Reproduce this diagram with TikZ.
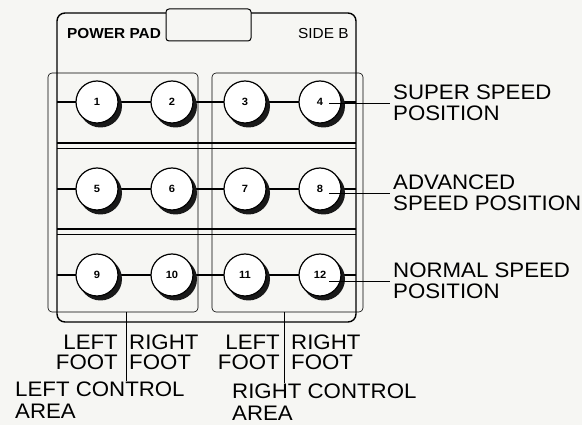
\documentclass[tikz,border=0pt]{standalone}
\usepackage{fontspec}
\setmainfont{Liberation Sans}
\newfontfamily\lab[FakeStretch=1.06]{Liberation Sans}
\definecolor{bg}{RGB}{246,246,243}
\begin{document}
\begin{tikzpicture}[x=1pt,y=-1pt,
  btn/.style={circle,draw,line width=1.2pt,fill=white,minimum size=42pt,inner sep=0pt,
    font=\lab\bfseries\fontsize{10.5}{10.5}\selectfont},
  btnshadow/.style={fill=black!90},
  rowline/.style={line width=1.8pt},
  divider/.style={line width=1.6pt},
  thinline/.style={line width=0.6pt},
  leader/.style={line width=0.6pt},
  lbl/.style={font=\lab\fontsize{21}{21}\selectfont,inner sep=0pt},
  foot/.style={font=\lab\fontsize{21}{20}\selectfont,inner sep=0pt},
  area/.style={font=\lab\fontsize{21}{22}\selectfont,inner sep=0pt,align=left},
  padtext/.style={font=\lab\fontsize{14.5}{14.5}\selectfont,inner sep=0pt}]
\fill[bg] (0,0) rectangle (582,425);
\useasboundingbox (0,0) rectangle (582,425);
% control area boxes
\draw[thinline,rounded corners=4pt] (48,73) rectangle (198,312);
\draw[thinline,rounded corners=4pt] (212,73) rectangle (363,312);
% pad
\draw[line width=1.4pt,rounded corners=8pt] (57,13) rectangle (356,322);
\draw[line width=1pt,rounded corners=3pt,fill=bg] (166,9) rectangle (251,41);
\node[padtext,anchor=north west,font=\lab\bfseries\fontsize{14.5}{14.5}\selectfont] (pp) at (67,28) {POWER PAD};
\node[padtext,anchor=north west] (sb) at (298,28) {SIDE B};
% row dividers
\draw[divider] (57,143) -- (356,143);
\draw[thinline] (57,148) -- (356,148);
\draw[divider] (57,229) -- (356,229);
\draw[thinline] (57,234) -- (356,234);
% row lines
\foreach \y in {102,189,275}{
  \draw[rowline] (57,\y) -- (356,\y);
}
% button shadows
\foreach \x in {97,172,245,320}{
  \foreach \y in {102,189,275}{
    \fill[btnshadow] (\x+3.5,\y+4) circle (21.5);
  }
}
% buttons
\node[btn] (b1) at (97,102) {1};
\node[btn] (b2) at (172,102) {2};
\node[btn] (b3) at (245,102) {3};
\node[btn] (b4) at (320,102) {4};
\node[btn] (b5) at (97,189) {5};
\node[btn] (b6) at (172,189) {6};
\node[btn] (b7) at (245,189) {7};
\node[btn] (b8) at (320,189) {8};
\node[btn] (b9) at (97,275) {9};
\node[btn] (b10) at (172,275) {10};
\node[btn] (b11) at (245,275) {11};
\node[btn] (b12) at (320,275) {12};
% right labels
\node[lbl,anchor=north west,align=left] (l1) at (393,85) {SUPER SPEED\\POSITION};
\node[lbl,anchor=north west,align=left] (l2) at (393,175) {ADVANCED\\SPEED POSITION};
\node[lbl,anchor=north west,align=left] (l3) at (393,263) {NORMAL SPEED\\POSITION};
\draw[leader] ([xshift=9pt]b4.center |- l1.west) -- ([xshift=-3pt]l1.west);
\draw[leader] ([xshift=9pt]b8.center |- l2.west) -- ([xshift=-3pt]l2.west);
\draw[leader] ([xshift=9pt]b12.center |- l3.west) -- ([xshift=-3pt]l3.west);
% bottom labels
\node[foot,anchor=north east,align=right] (lf1) at (118,335) {LEFT\\FOOT};
\node[foot,anchor=north west,align=left] (rf1) at (129,335) {RIGHT\\FOOT};
\node[foot,anchor=north east,align=right] (lf2) at (280,335) {LEFT\\FOOT};
\node[foot,anchor=north west,align=left] (rf2) at (291,335) {RIGHT\\FOOT};
\coordinate (t1) at (126,312);
\coordinate (t1e) at (126,381);
\coordinate (t2) at (284,312);
\coordinate (t2e) at (284,383);
\draw[thinline] (t1) -- (t1e);
\draw[thinline] (t2) -- (t2e);
\node[area,anchor=north west] (lca) at (15,382) {LEFT CONTROL\\AREA};
\node[area,anchor=north west] (rca) at (232,384) {RIGHT CONTROL\\AREA};
\end{tikzpicture}
\end{document}
